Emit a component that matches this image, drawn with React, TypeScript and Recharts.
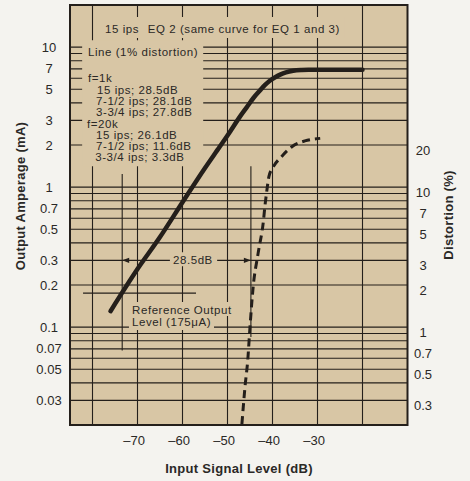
import React from 'react';
import {
  ComposedChart,
  Line,
  XAxis,
  YAxis,
  ReferenceLine,
  ReferenceArea,
  ReferenceDot,
} from 'recharts';

// ---- data ----
const inputLevelDb = [-76, -70, -65, -60, -55, -51.7, -49.4, -47.5, -45.7, -44.2, -42.8, -41.6, -40.6, -39.4, -38.3, -37, -35.4, -33.5, -32, -20];
const outputAmperageMa = [0.13, 0.26, 0.44, 0.78, 1.37, 1.95, 2.5, 3.1, 3.73, 4.35, 4.9, 5.4, 5.76, 6.1, 6.36, 6.6, 6.78, 6.87, 6.9, 6.9];

const distortionInputDb = [-46.8, -46.1, -45.5, -45.0, -44.3, -43.2, -42.0, -41.7, -41.3, -40.8, -39.8, -38.0, -35.7, -32.8, -29.4];
const distortionPct = [0.22, 0.41, 0.63, 1.09, 2.1, 3.65, 6.3, 7.85, 10.0, 12.9, 15.2, 17.9, 21.1, 23.2, 24.2];

const xTicks = [-70, -60, -50, -40, -30];
const ampTicks = [0.03, 0.05, 0.07, 0.1, 0.2, 0.3, 0.5, 0.7, 1, 2, 3, 5, 7, 10];
const distTicks = [0.3, 0.5, 0.7, 1, 2, 3, 5, 7, 10, 20];
const gridDb = [-80, -70, -60, -50, -40, -30, -20];
const gridMa = [
  0.03, 0.04, 0.05, 0.06, 0.07, 0.08, 0.09,
  0.1, 0.2, 0.3, 0.4, 0.5, 0.6, 0.7, 0.8, 0.9,
  1, 2, 3, 4, 5, 6, 7, 8, 9, 10,
];

const titleParts = ['15 ips', 'EQ 2 (same curve for EQ 1 and 3)'];
const legendLines = [
  'Line (1% distortion)',
  'f=1k',
  '15 ips; 28.5dB',
  '7-1/2 ips; 28.1dB',
  '3-3/4 ips; 27.8dB',
  'f=20k',
  '15 ips; 26.1dB',
  '7-1/2 ips; 11.6dB',
  '3-3/4 ips; 3.3dB',
];
const dimensionLabel = '28.5dB';
const referenceLabel = ['Reference Output', 'Level (175\u03bcA)'];
const referenceLevelMa = 0.175;

const ampData = inputLevelDb.map((db, i) => ({ db, mA: outputAmperageMa[i] }));
const distData = distortionInputDb.map((db, i) => ({ db, pct: distortionPct[i] }));

// ---- styles ----
const INK = '#241f1b';
const TEXT = '#2a2826';
const TAN = '#d8c6a5';
const PAGE = '#f4f3ef';
const FONT = "'Liberation Sans', Arial, Helvetica, sans-serif";

const TextShape = (props: any) => {
  const { cx, cy, text, anchor } = props;
  return (
    <text
      x={cx}
      y={cy}
      dy="0.35em"
      textAnchor={anchor || 'start'}
      fontFamily={FONT}
      fontSize={11.5}
      letterSpacing={0.55}
      fill={TEXT}
    >
      {text}
    </text>
  );
};

const ArrowShape = (props: any) => {
  const { cx, cy, dir } = props;
  const s = dir === 'left' ? 1 : -1;
  const d = `M${cx},${cy} L${cx + s * 7},${cy - 2.6} L${cx + s * 7},${cy + 2.6} Z`;
  return <path d={d} fill={INK} stroke="none" />;
};

const LeftTick = (props: any) => {
  const { y, payload } = props;
  return (
    <text x={49} y={y} dy="0.35em" textAnchor="middle" fontFamily={FONT} fontSize={13} fill={TEXT}>
      {String(payload.value)}
    </text>
  );
};

const RightTick = (props: any) => {
  const { y, payload } = props;
  return (
    <text x={423} y={y} dy="0.35em" textAnchor="middle" fontFamily={FONT} fontSize={13} fill={TEXT}>
      {String(payload.value)}
    </text>
  );
};

const BottomTick = (props: any) => {
  const { x, payload } = props;
  return (
    <text x={x + 7.5} y={440} dy="0.35em" textAnchor="end" fontFamily={FONT} fontSize={13} fill={TEXT}>
      {'\u2013' + Math.abs(payload.value)}
    </text>
  );
};

const AxisTitle = (props: any) => {
  const { tx, ty, text, rotate } = props;
  return (
    <text
      x={tx}
      y={ty}
      dy="0.35em"
      textAnchor="middle"
      transform={rotate ? `rotate(-90 ${tx} ${ty})` : undefined}
      fontFamily={FONT}
      fontWeight="bold"
      fontSize={13}
      letterSpacing={0.3}
      fill={TEXT}
    >
      {text}
    </text>
  );
};

const legendPos: [number, number][] = [
  [-81, 9.22],
  [-81, 6.0],
  [-79, 4.93],
  [-79.2, 4.11],
  [-79.2, 3.43],
  [-81.2, 2.82],
  [-79.2, 2.35],
  [-79.2, 1.96],
  [-79.4, 1.64],
];

export default function App() {
  return (
    <div style={{ position: 'absolute', left: 0, top: 0, width: 470, height: 481, background: PAGE }}>
      <ComposedChart width={470} height={481} margin={{ top: 5, right: 0, bottom: 0, left: 0 }}>
        <XAxis
          dataKey="db"
          type="number"
          domain={[-85, -10]}
          ticks={xTicks}
          interval={0}
          allowDataOverflow
          axisLine={false}
          tickLine={false}
          height={56}
          tick={<BottomTick />}
          label={<AxisTitle tx={239} ty={468} text="Input Signal Level (dB)" />}
        />
        <YAxis
          yAxisId="left"
          type="number"
          scale="log"
          domain={[0.02, 20]}
          ticks={ampTicks}
          interval={0}
          allowDataOverflow
          axisLine={false}
          tickLine={false}
          width={70}
          tick={<LeftTick />}
          label={<AxisTitle tx={20} ty={196} text="Output Amperage (mA)" rotate />}
        />
        <YAxis
          yAxisId="right"
          orientation="right"
          type="number"
          scale="log"
          domain={[0.217, 217]}
          ticks={distTicks}
          interval={0}
          allowDataOverflow
          axisLine={false}
          tickLine={false}
          width={62.5}
          tick={<RightTick />}
          label={<AxisTitle tx={448} ty={215} text="Distortion (%)" rotate />}
        />

        {/* paper background */}
        <ReferenceArea yAxisId="left" x1={-85} x2={-10} y1={0.02} y2={20} fill={TAN} fillOpacity={1} stroke="none" zIndex={-300} />

        {/* grid */}
        {gridMa.map((v) => (
          <ReferenceLine key={'h' + v} yAxisId="left" y={v} stroke={INK} strokeWidth={1.1} zIndex={-200} />
        ))}
        {gridDb.map((v) => (
          <ReferenceLine key={'v' + v} yAxisId="left" x={v} stroke={INK} strokeWidth={1.1} zIndex={-200} />
        ))}

        {/* text backgrounds */}
        <ReferenceArea yAxisId="left" x1={-79.2} x2={-23.9} y1={11.6} y2={16.4} fill={TAN} fillOpacity={1} stroke="none" zIndex={-100} />
        <ReferenceArea yAxisId="left" x1={-82.3} x2={-55.4} y1={1.41} y2={11.2} fill={TAN} fillOpacity={1} stroke="none" zIndex={-100} />
        <ReferenceArea yAxisId="left" x1={-62.8} x2={-52.3} y1={0.272} y2={0.343} fill={TAN} fillOpacity={1} stroke="none" zIndex={-100} />
        <ReferenceArea yAxisId="left" x1={-71.9} x2={-48.1} y1={0.12} y2={0.151} fill={TAN} fillOpacity={1} stroke="none" zIndex={-100} />
        <ReferenceArea yAxisId="left" x1={-71.9} x2={-53} y1={0.0953} y2={0.12} fill={TAN} fillOpacity={1} stroke="none" zIndex={-100} />

        {/* annotation lines */}
        <ReferenceLine yAxisId="left" segment={[{ x: -82.1, y: referenceLevelMa }, { x: -57, y: referenceLevelMa }]} stroke={INK} strokeWidth={1.1} zIndex={-90} />
        <ReferenceLine yAxisId="left" segment={[{ x: -73.4, y: 1.24 }, { x: -73.4, y: 0.068 }]} stroke={INK} strokeWidth={1.1} zIndex={-90} />
        <ReferenceLine yAxisId="left" segment={[{ x: -44.8, y: 1.41 }, { x: -44.8, y: 0.085 }]} stroke={INK} strokeWidth={1.1} zIndex={-90} />
        <ReferenceDot yAxisId="left" x={-73.4} y={0.3} r={0} shape={<ArrowShape dir="left" />} zIndex={-80} />
        <ReferenceDot yAxisId="left" x={-44.8} y={0.3} r={0} shape={<ArrowShape dir="right" />} zIndex={-80} />

        {/* texts */}
        <ReferenceDot yAxisId="left" x={-77.2} y={13.5} r={0} shape={<TextShape text={titleParts[0]} />} zIndex={-80} />
        <ReferenceDot yAxisId="left" x={-67.7} y={13.5} r={0} shape={<TextShape text={titleParts[1]} />} zIndex={-80} />
        {legendLines.map((t, i) => (
          <ReferenceDot key={'lg' + i} yAxisId="left" x={legendPos[i][0]} y={legendPos[i][1]} r={0} shape={<TextShape text={t} />} zIndex={-80} />
        ))}
        <ReferenceDot yAxisId="left" x={-62.1} y={0.3} r={0} shape={<TextShape text={dimensionLabel} />} zIndex={-80} />
        <ReferenceDot yAxisId="left" x={-71.2} y={0.132} r={0} shape={<TextShape text={referenceLabel[0]} />} zIndex={-80} />
        <ReferenceDot yAxisId="left" x={-71.2} y={0.109} r={0} shape={<TextShape text={referenceLabel[1]} />} zIndex={-80} />

        {/* curves */}
        <Line
          yAxisId="left"
          data={ampData}
          dataKey="mA"
          type="monotone"
          stroke={INK}
          strokeWidth={4.5}
          strokeLinecap="round"
          dot={false}
          activeDot={false}
          isAnimationActive={false}
        />
        <Line
          yAxisId="right"
          data={distData}
          dataKey="pct"
          type="monotone"
          stroke={INK}
          strokeWidth={3}
          strokeDasharray="8 5"
          dot={false}
          activeDot={false}
          isAnimationActive={false}
        />

        {/* plot border */}
        <ReferenceArea yAxisId="left" x1={-85} x2={-10} y1={0.02} y2={20} fill="none" stroke={INK} strokeWidth={2} zIndex={900} />
      </ComposedChart>
    </div>
  );
}
